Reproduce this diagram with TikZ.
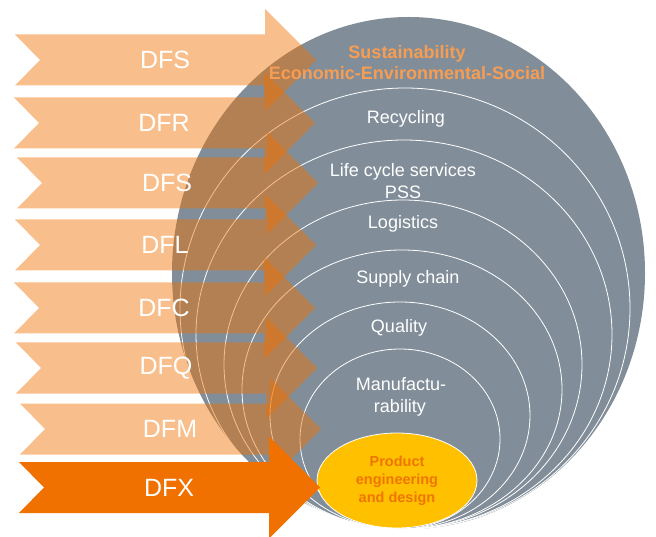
\documentclass[tikz,border=0pt]{standalone}
\usepackage{fontspec}
\setmainfont{Liberation Sans}
\usetikzlibrary{shapes.geometric}

\definecolor{ringgray}{RGB}{129,142,153}
\definecolor{dfxorange}{RGB}{240,112,0}
\definecolor{coreyellow}{RGB}{255,192,0}
\definecolor{sustorange}{RGB}{247,157,83}
\definecolor{coretext}{RGB}{238,118,0}

\begin{document}
\begin{tikzpicture}[x=1pt, y=-1pt,
	ring/.style={draw=white, line width=0.8pt},
	dfarrow/.style={fill=dfxorange, fill opacity=0.45},
	dflabel/.style={text=white, font=\fontsize{25}{29}\selectfont},
	ringlabel/.style={text=white, anchor=base, font=\fontsize{18}{21}\selectfont},
	sustlabel/.style={text=sustorange, anchor=base, font=\bfseries\fontsize{18}{21}\selectfont},
	corenode/.style={ellipse, draw=white, line width=0.8pt, fill=coreyellow, inner sep=0pt,
		minimum width=160pt, minimum height=95pt, align=center, text=coretext,
		font=\bfseries\fontsize{14.5}{18}\selectfont}]
	\useasboundingbox (0,0) rectangle (656,537);
	
	% outer sustainability ellipse and the nested rings
	\fill[ringgray] (408.5,273) ellipse [x radius=236.5pt, y radius=256pt];
	\foreach \cx/\cy/\rx/\ry in {405/308.5/225/220.5, 404/334.5/208/194.5, 403/364.5/179/164.5,
		402/389.5/160/139.5, 400/415.5/130/113.5, 400/439/100/90}
		\draw[ring] (\cx,\cy) ellipse [x radius=\rx pt, y radius=\ry pt];
	\node[corenode] (core) at (397,480.5) {Product\\engineering\\and design};
	
	% DF arrows
	\foreach \x/\y/\name [count=\i] in {15/60/DFS, 14/123/DFR, 17/183/DFS, 15/245/DFL,
		14/308/DFC, 16/368/DFQ, 20/429/DFM}
	{
		\fill[dfarrow] (\x,\y-25.5) -- ++(250,0) -- ++(0,-25.5) -- ++(51,51) -- ++(-51,51)
			-- ++(0,-25.5) -- ++(-250,0) -- ++(25,-25.5) -- cycle;
		\node[dflabel] (df\i) at (\x+150,\y) {\name};
	}
	\fill[dfxorange] (19,462) -- ++(250,0) -- ++(0,-25.5) -- ++(51,51) -- ++(-51,51)
		-- ++(0,-25.5) -- ++(-250,0) -- ++(25,-25.5) -- cycle;
	\node[dflabel] (dfx) at (169,488) {DFX};
	
	% ring labels
	\node[sustlabel] (sust) at (407,59) {Sustainability};
	\node[sustlabel] (eco) at (407,80) {Economic-Environmental-Social};
	\node[ringlabel] (recyc) at (406,124) {Recycling};
	\node[ringlabel] (lcs) at (403,177) {Life cycle services};
	\node[ringlabel] (pss) at (403,199) {PSS};
	\node[ringlabel] (logis) at (403,229) {Logistics};
	\node[ringlabel] (supply) at (408,284) {Supply chain};
	\node[ringlabel] (qual) at (399,333) {Quality};
	\node[ringlabel] (manuf) at (401,390) {Manufactu-};
	\node[ringlabel] (rab) at (400,412) {rability};
\end{tikzpicture}
\end{document}
